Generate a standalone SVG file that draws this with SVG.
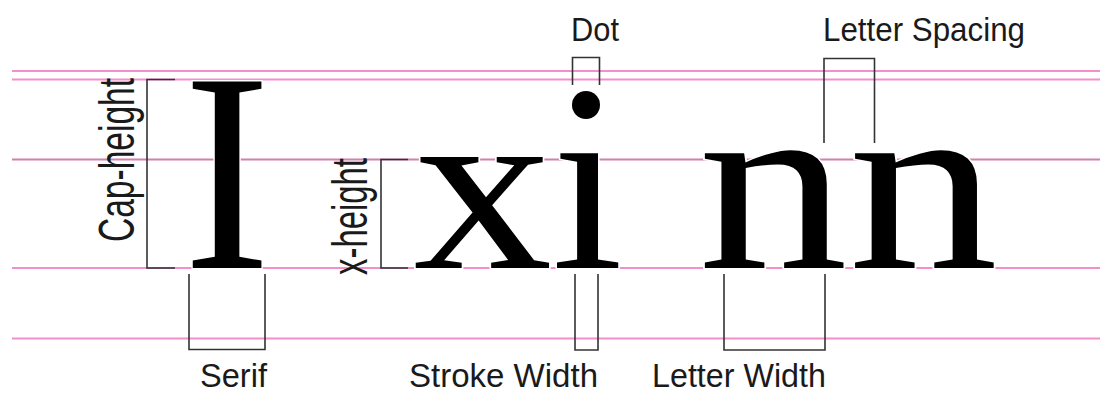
<svg xmlns="http://www.w3.org/2000/svg" width="1100" height="394" viewBox="0 0 1100 394">
  <style>
    .guide { stroke: #f38fcb; stroke-width: 2; fill: none; }
    .guide-x { stroke: #cf80b0; }
    .glyph { font-family: "Liberation Serif", "Times New Roman", serif; fill: #000; stroke: #fff; stroke-width: 3; paint-order: stroke; }
    .bracket { fill: none; stroke: #333; stroke-width: 1.6; }
    .label { font-family: "Liberation Sans", Arial, sans-serif; font-size: 33px; fill: #1a1a1a; }
    .vlabel { font-family: "Liberation Sans", Arial, sans-serif; font-size: 34px; fill: #1a1a1a; }
  </style>
  <rect width="1100" height="394" fill="#fff"/>

  <g id="guides">
    <line class="guide" x1="12" y1="71" x2="1100" y2="71"/>
    <line class="guide" x1="12" y1="79.5" x2="1100" y2="79.5"/>
    <line class="guide guide-x" x1="12" y1="159.5" x2="1100" y2="159.5"/>
    <line class="guide" x1="12" y1="268" x2="1100" y2="268"/>
    <line class="guide" x1="12" y1="338.5" x2="1100" y2="338.5"/>
  </g>

  <g id="glyph-I">
    <text class="glyph" font-size="285" transform="translate(183.3,268) scale(0.92,1)">I</text>
  </g>
  <g id="glyph-x">
    <text class="glyph" font-size="242" transform="translate(413.3,268) scale(1.15,1)">x</text>
  </g>
  <g id="glyph-i">
    <text class="glyph" font-size="250" transform="translate(551.6,268) scale(1.03,1)">ı</text>
    <circle cx="586" cy="105" r="14" fill="#000"/>
  </g>
  <g id="glyph-n1">
    <text class="glyph" font-size="250" transform="translate(698,268) scale(1.2,1)">n</text>
  </g>
  <g id="glyph-n2">
    <text class="glyph" font-size="250" transform="translate(848.2,268) scale(1.2,1)">n</text>
  </g>

  <g id="connectors">
    <path class="bracket" d="M175,79.5 H147 V268 H175"/>
    <path class="bracket" d="M189,274 V349.5 H265 V274"/>
    <path class="bracket" d="M408,159.5 H381 V268 H408"/>
    <path class="bracket" d="M572.5,85 V57.5 H599.5 V85"/>
    <path class="bracket" d="M575,274 V350 H598 V274"/>
    <path class="bracket" d="M824,143 V58.5 H874.5 V143"/>
    <path class="bracket" d="M724,274 V350 H825 V274"/>
  </g>

  <g id="label-cap-height">
    <text class="vlabel" transform="translate(134,242) rotate(-90) scale(1,1.47)" textLength="164" lengthAdjust="spacingAndGlyphs">Cap-height</text>
  </g>
  <g id="label-x-height">
    <text class="vlabel" transform="translate(367,275) rotate(-90) scale(1,1.47)" textLength="117" lengthAdjust="spacingAndGlyphs">x-height</text>
  </g>
  <g id="label-dot">
    <text class="label" x="571" y="41" textLength="48" lengthAdjust="spacingAndGlyphs">Dot</text>
  </g>
  <g id="label-letter-spacing">
    <text class="label" x="823" y="41" textLength="202" lengthAdjust="spacingAndGlyphs">Letter Spacing</text>
  </g>
  <g id="label-serif">
    <text class="label" x="200" y="387" textLength="67" lengthAdjust="spacingAndGlyphs">Serif</text>
  </g>
  <g id="label-stroke-width">
    <text class="label" x="409" y="387" textLength="189" lengthAdjust="spacingAndGlyphs">Stroke Width</text>
  </g>
  <g id="label-letter-width">
    <text class="label" x="652" y="387" textLength="174" lengthAdjust="spacingAndGlyphs">Letter Width</text>
  </g>
</svg>
